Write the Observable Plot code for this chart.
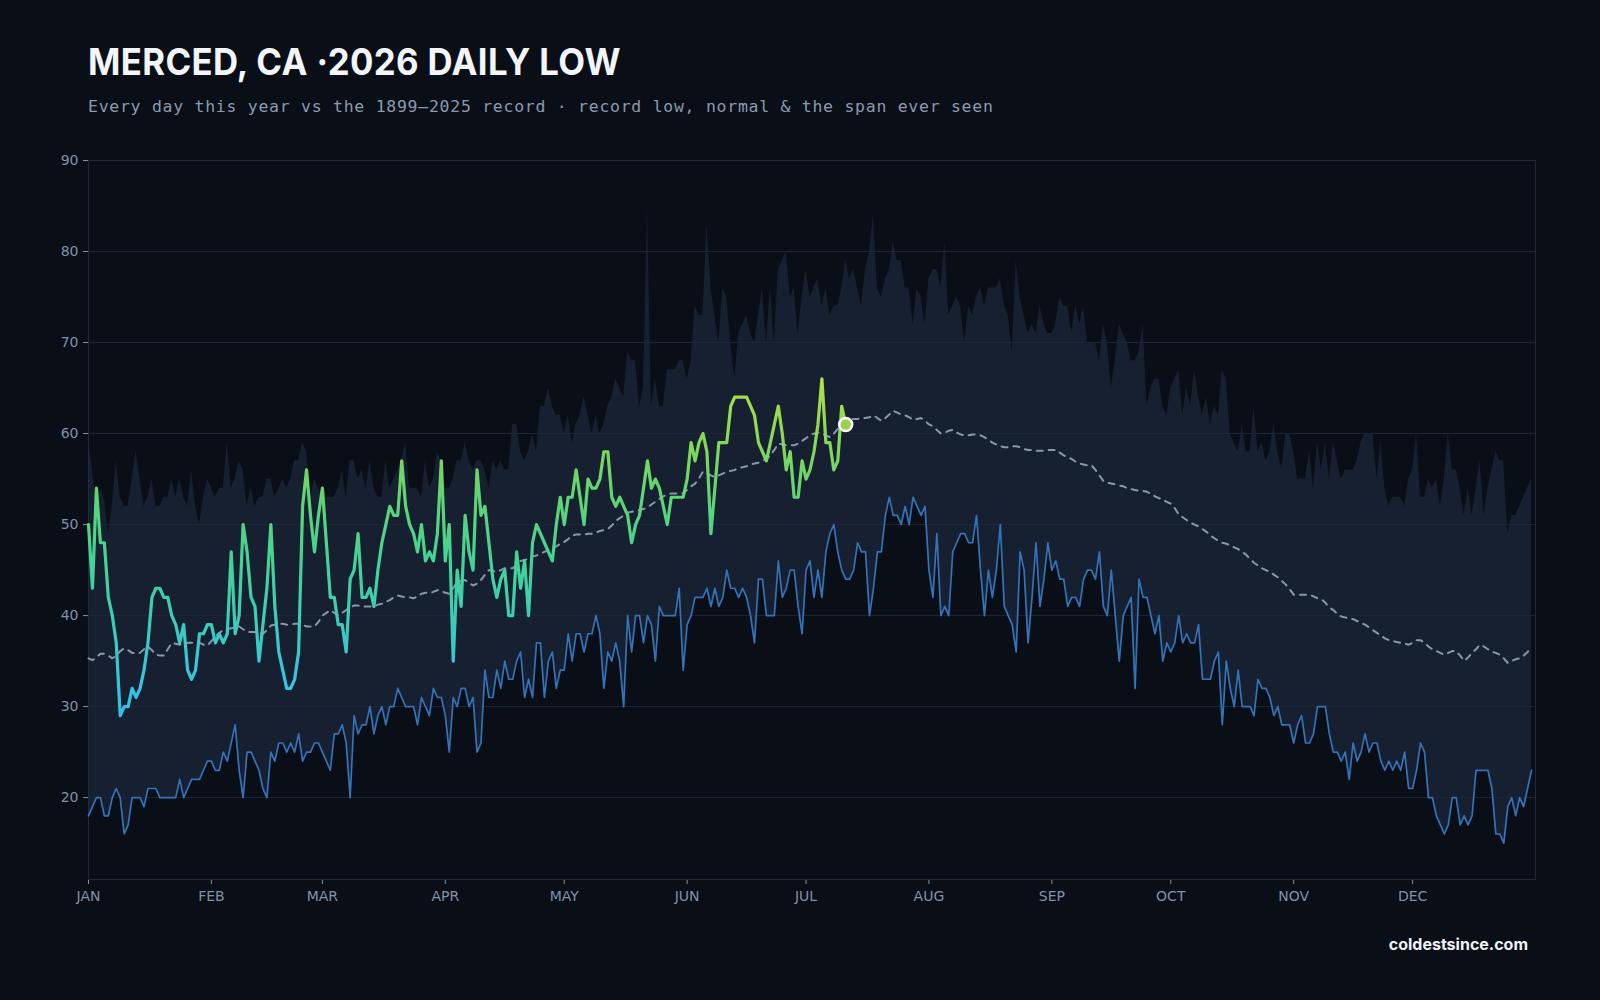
<!DOCTYPE html>
<html>
<head>
<meta charset="utf-8">
<script src="https://cdn.jsdelivr.net/npm/d3@7"></script>
<script src="https://cdn.jsdelivr.net/npm/@observablehq/plot@0.6"></script>
<style>
  html, body { margin: 0; padding: 0; background: #0a0e16; }
  #wrap { position: relative; width: 1600px; height: 1000px; background: #0a0e16; overflow: hidden; }
  #title { position: absolute; left: 88px; top: 43px; margin: 0; font: 700 37.5px Inter, "DejaVu Sans", sans-serif; line-height: 1; color: #f2f6fb; letter-spacing: 0.4px; white-space: nowrap; transform-origin: 0 0; }
  #subtitle { position: absolute; left: 88px; top: 98.5px; margin: 0; font: 400 16.5px "DejaVu Sans Mono", monospace; line-height: 1; color: #8a9bb0; letter-spacing: 0.72px; white-space: nowrap; }
  #chart { position: absolute; left: 0; top: 0; }
  #footer { position: absolute; right: 72px; top: 936px; font: 700 16px Inter, "DejaVu Sans", sans-serif; line-height: 16px; color: #eef2f7; white-space: nowrap; }
</style>
</head>
<body>
<div id="wrap">
  <div id="chart"></div>
  <div id="title">MERCED, CA ·2026 DAILY LOW</div>
  <div id="subtitle">Every day this year vs the 1899–2025 record · record low, normal &amp; the span ever seen</div>
  <div id="footer">coldestsince.com</div>
</div>
<script>
// ---- data (°F), one value per day starting Jan 1 ----
const recordHigh = [
  59,56,52,54,53,49,52,57,53,52, 52,55,58,55,52,53,55,52,52,53,
  53,55,53,55,53,52,56,52,50,53, 55,54,53,54,54,59,54,55,57,56,
  52,54,52,53,53,55,55,53,54,55, 54,55,57,57,59,58,53,55,54,53,
  53,53,53,54,56,53,57,57,55,56, 54,57,54,53,53,57,54,55,56,57,
  59,54,54,54,53,57,54,55,58,57, 54,54,55,57,57,59,57,56,57,57,
  56,54,57,56,57,56,56,61,61,58, 57,58,60,58,63,63,65,63,62,62,
  60,62,59,61,62,64,62,60,62,60, 61,63,64,66,65,64,69,68,68,63,
  65,85,63,66,63,63,67,67,67,68, 68,66,68,74,73,73,83,76,73,70,
  76,75,70,66,71,72,73,71,70,73, 76,70,76,70,78,79,80,75,76,71,
  75,78,75,76,77,74,76,73,74,74, 76,79,77,78,76,74,78,80,84,76,
  75,77,78,81,79,79,76,76,72,76, 75,72,77,78,78,76,81,73,74,75,
  74,70,74,73,75,76,74,76,76,76, 77,74,73,69,79,75,73,71,72,71,
  74,72,71,71,72,75,74,74,71,74, 72,74,70,70,70,68,72,70,65,68,
  72,71,70,68,68,69,72,63,65,66, 66,63,62,65,66,67,62,65,63,67,
  64,62,64,61,63,62,67,66,60,59, 58,61,58,58,63,58,59,57,58,61,
  58,56,60,60,58,55,55,55,58,54, 59,56,59,55,59,57,55,56,56,56,
  57,59,60,60,60,55,59,54,52,53, 53,53,52,55,56,60,53,53,55,54,
  55,52,55,60,56,56,54,51,54,51, 54,57,51,54,56,58,57,57,49,51,
  51,52,53,54,55
];
const recordLow = [
  18,19,20,20,18,18,20,21,20,16, 17,20,20,20,19,21,21,21,20,20,
  20,20,20,22,20,21,22,22,22,23, 24,24,23,23,25,24,26,28,23,20,
  25,25,24,23,21,20,25,24,26,26, 25,26,25,27,24,25,25,26,26,25,
  24,23,27,27,28,26,20,29,27,28, 28,30,27,29,30,28,30,30,32,31,
  30,30,30,28,31,30,29,32,31,31, 29,25,31,30,32,32,30,31,25,26,
  34,31,31,34,32,35,33,33,35,36, 31,33,31,37,37,31,35,36,32,34,
  34,38,35,38,38,36,38,38,40,38, 32,36,35,37,35,30,40,36,40,40,
  37,40,39,35,41,40,40,40,40,43, 34,39,40,42,42,42,43,41,43,41,
  42,45,43,43,42,43,42,40,37,44, 44,40,40,40,46,42,43,45,45,41,
  38,45,46,42,45,42,47,49,50,47, 45,44,44,45,48,47,47,40,43,47,
  47,51,53,51,51,50,52,50,53,52, 51,52,45,42,49,40,41,40,47,48,
  49,49,48,48,51,45,40,45,42,45, 50,41,40,39,36,47,45,37,42,48,
  41,44,48,45,46,44,44,41,42,42, 41,44,45,45,44,47,41,40,45,40,
  35,40,41,42,32,44,42,42,40,38, 40,35,37,36,37,40,37,38,37,37,
  39,33,33,33,35,36,28,35,32,30, 34,30,30,30,29,33,32,32,31,29,
  30,28,28,28,26,28,29,26,26,27, 30,30,30,27,25,25,24,25,22,26,
  24,25,27,25,26,26,24,23,24,23, 24,23,25,21,21,23,26,25,20,20,
  18,17,16,17,20,20,17,18,17,18, 23,23,23,23,21,16,16,15,19,20,
  18,20,19,21,23
];
const normal = [
  35.3,35.1,35.4,35.8,35.8,35.6,35.3,35.6,36.1,36.4, 36.2,35.9,35.9,35.9,36.3,36.6,36.2,35.7,35.6,35.6,
  36.3,37.0,36.9,36.8,36.9,37.0,37.0,37.0,37.0,36.8, 36.7,37.2,37.7,38.1,38.4,38.5,38.6,38.7,38.8,38.5,
  38.2,38.2,38.2,38.1,38.0,38.4,38.9,39.0,39.1,39.1, 39.0,39.0,39.1,39.1,39.0,38.8,38.8,38.8,39.3,40.0,
  40.3,40.6,40.3,40.0,40.3,40.6,40.9,41.1,41.1,41.0, 41.0,41.0,41.0,41.2,41.3,41.5,41.7,42.0,42.2,42.1,
  42.0,42.0,41.9,42.1,42.4,42.5,42.5,42.6,42.8,42.7, 42.5,42.4,43.0,43.7,43.8,43.9,43.6,43.3,43.5,43.9,
  44.5,45.0,44.9,44.8,45.0,45.2,45.2,45.2,45.6,46.0, 46.1,46.3,46.5,46.6,46.8,47.0,47.2,47.4,47.6,47.9,
  48.1,48.4,48.8,48.9,48.9,48.9,49.0,49.0,49.1,49.3, 49.4,49.5,49.9,50.4,50.7,51.0,51.3,51.4,51.5,51.6,
  51.7,51.9,52.2,52.5,52.8,53.1,53.3,53.4,53.4,53.4, 53.4,53.8,54.2,54.5,55.1,55.8,55.6,55.4,55.2,55.4,
  55.6,55.8,55.9,56.0,56.2,56.3,56.4,56.6,56.7,56.8, 57.0,57.2,57.6,58.2,58.9,58.8,58.7,58.7,58.7,58.9,
  59.2,59.5,59.8,60.0,60.1,60.0,59.8,59.6,60.0,60.5, 61.0,61.3,61.5,61.6,61.6,61.7,61.7,61.8,62.0,61.7,
  61.4,61.7,62.1,62.5,62.3,62.1,62.0,61.8,61.5,61.6, 61.7,61.4,61.0,60.8,60.4,60.0,60.1,60.3,60.4,60.1,
  59.9,59.8,59.8,59.9,59.9,59.8,59.6,59.3,59.0,58.8, 58.6,58.5,58.5,58.6,58.6,58.5,58.3,58.2,58.2,58.1,
  58.1,58.1,58.2,58.2,58.2,57.9,57.6,57.4,57.2,56.9, 56.7,56.6,56.5,56.5,56.0,55.4,54.8,54.6,54.5,54.4,
  54.3,54.2,54.0,53.9,53.8,53.7,53.7,53.6,53.4,53.1, 52.9,52.7,52.5,52.3,51.8,51.1,50.8,50.5,50.2,50.0,
  49.8,49.5,49.2,48.8,48.5,48.2,48.0,47.9,47.7,47.5, 47.3,47.0,46.7,46.2,45.8,45.5,45.2,45.0,44.8,44.5,
  44.2,43.8,43.4,42.9,42.3,42.3,42.3,42.3,42.3,42.1, 41.9,41.8,41.4,40.9,40.6,40.2,39.9,39.8,39.7,39.6,
  39.4,39.2,39.0,38.7,38.4,38.1,37.8,37.5,37.3,37.2, 37.1,37.0,36.9,36.8,37.0,37.3,37.3,37.0,36.6,36.3,
  36.1,35.9,35.7,35.9,36.1,36.1,35.6,35.0,35.4,35.9, 36.3,36.8,36.6,36.3,36.0,35.9,35.7,35.3,34.8,35.0,
  35.2,35.3,35.6,36.0,36.6
];
const thisYear = [
  50,43,54,48,48,42,40,37,29,30, 30,32,31,32,34,37,42,43,43,42,
  42,40,39,37,39,34,33,34,38,38, 39,39,37,38,37,38,47,38,40,50,
  47,42,41,35,39,43,50,41,36,34, 32,32,33,36,52,56,51,47,51,54,
  48,42,42,39,39,36,44,45,49,42, 42,43,41,45,48,50,52,51,51,57,
  52,50,49,47,50,46,47,46,49,57, 46,50,35,45,41,51,47,45,56,51,
  52,48,44,42,44,45,40,40,47,43, 46,40,48,50,49,48,47,46,50,53,
  50,53,53,56,53,50,55,54,54,55, 58,58,53,52,53,52,51,48,50,51,
  54,57,54,55,54,52,50,53,53,53, 53,55,59,57,59,60,58,49,54,59,
  59,59,63,64,64,64,64,63,62,59, 58,57,59,61,63,60,56,58,53,53,
  57,55,56,58,61,66,59,59,56,57, 63,61
];
const monthLabels = ["JAN","FEB","MAR","APR","MAY","JUN","JUL","AUG","SEP","OCT","NOV","DEC"];
const yTicks = [20, 30, 40, 50, 60, 70, 80, 90];
const yDomain = [11, 90];
// colour ramp for this year's line, by temperature
const rampTemps  = [25, 32, 40, 47, 54, 61, 68];
const rampColors = ["#2fb6ea", "#35c4e2", "#3bcdb6", "#46d491", "#64d56e", "#92d853", "#bfe24a"];

// ---- build ----
const start = new Date(Date.UTC(2026, 0, 1));
const end = new Date(Date.UTC(2027, 0, 1));
const dayDate = i => new Date(Date.UTC(2026, 0, 1 + i));
const climo = recordHigh.map((h, i) => ({date: dayDate(i), high: h, low: recordLow[i], normal: normal[i]}));
const year = thisYear.map((v, i) => ({date: dayDate(i), temp: v}));
const last = year[year.length - 1];
const monthStarts = d3.utcMonth.range(start, end);

const plot = Plot.plot({
  width: 1600,
  height: 1000,
  marginTop: 160,
  marginLeft: 88,
  marginRight: 65,
  marginBottom: 121,
  style: {background: "transparent", color: "#8092a8", fontFamily: "'DejaVu Sans', sans-serif", fontSize: "14px"},
  x: {type: "utc", domain: [start, end], ticks: monthStarts, tickFormat: d => monthLabels[d.getUTCMonth()], tickSize: 5, tickPadding: 7, label: null},
  y: {domain: yDomain, ticks: yTicks, tickSize: 5, tickPadding: 5, label: null},
  marks: [
    Plot.areaY(climo, {x: "date", y1: "low", y2: "high", fill: "#172030"}),
    Plot.gridY(yTicks, {stroke: "#1c2839", strokeOpacity: 1}),
    Plot.frame({stroke: "#1e2b3d"}),
    Plot.lineY(climo, {x: "date", y: "low", stroke: "#3573b8", strokeWidth: 1.7}),
    Plot.lineY(climo, {x: "date", y: "normal", stroke: "#8798ae", strokeWidth: 2, strokeDasharray: "6,6"}),
    Plot.lineY(year, {x: "date", y: "temp", stroke: "url(#cyGrad)", strokeWidth: 3.2, strokeLinejoin: "round", strokeLinecap: "round"}),
    Plot.dot([last], {x: "date", y: "temp", r: 6.5, fill: "#9ad24c", stroke: "#ffffff", strokeWidth: 2.5})
  ]
});

// vertical gradient in user space, positioned with Plot's own y scale
const ys = plot.scale("y");
const yPix = d3.scaleLinear(ys.domain, ys.range);
const NS = "http://www.w3.org/2000/svg";
const defs = document.createElementNS(NS, "defs");
const grad = document.createElementNS(NS, "linearGradient");
grad.setAttribute("id", "cyGrad");
grad.setAttribute("gradientUnits", "userSpaceOnUse");
grad.setAttribute("x1", 0); grad.setAttribute("x2", 0);
const gy1 = yPix(rampTemps[0]), gy2 = yPix(rampTemps[rampTemps.length - 1]);
grad.setAttribute("y1", gy1); grad.setAttribute("y2", gy2);
rampTemps.forEach((t, i) => {
  const s = document.createElementNS(NS, "stop");
  s.setAttribute("offset", ((yPix(t) - gy1) / (gy2 - gy1)).toFixed(4));
  s.setAttribute("stop-color", rampColors[i]);
  grad.appendChild(s);
});
defs.appendChild(grad);
plot.insertBefore(defs, plot.firstChild);
document.getElementById("chart").appendChild(plot);

// fit title to reference width
const title = document.getElementById("title");
const tw = title.getBoundingClientRect().width;
title.style.transform = `scaleX(${533 / tw})`;
</script>
</body>
</html>
